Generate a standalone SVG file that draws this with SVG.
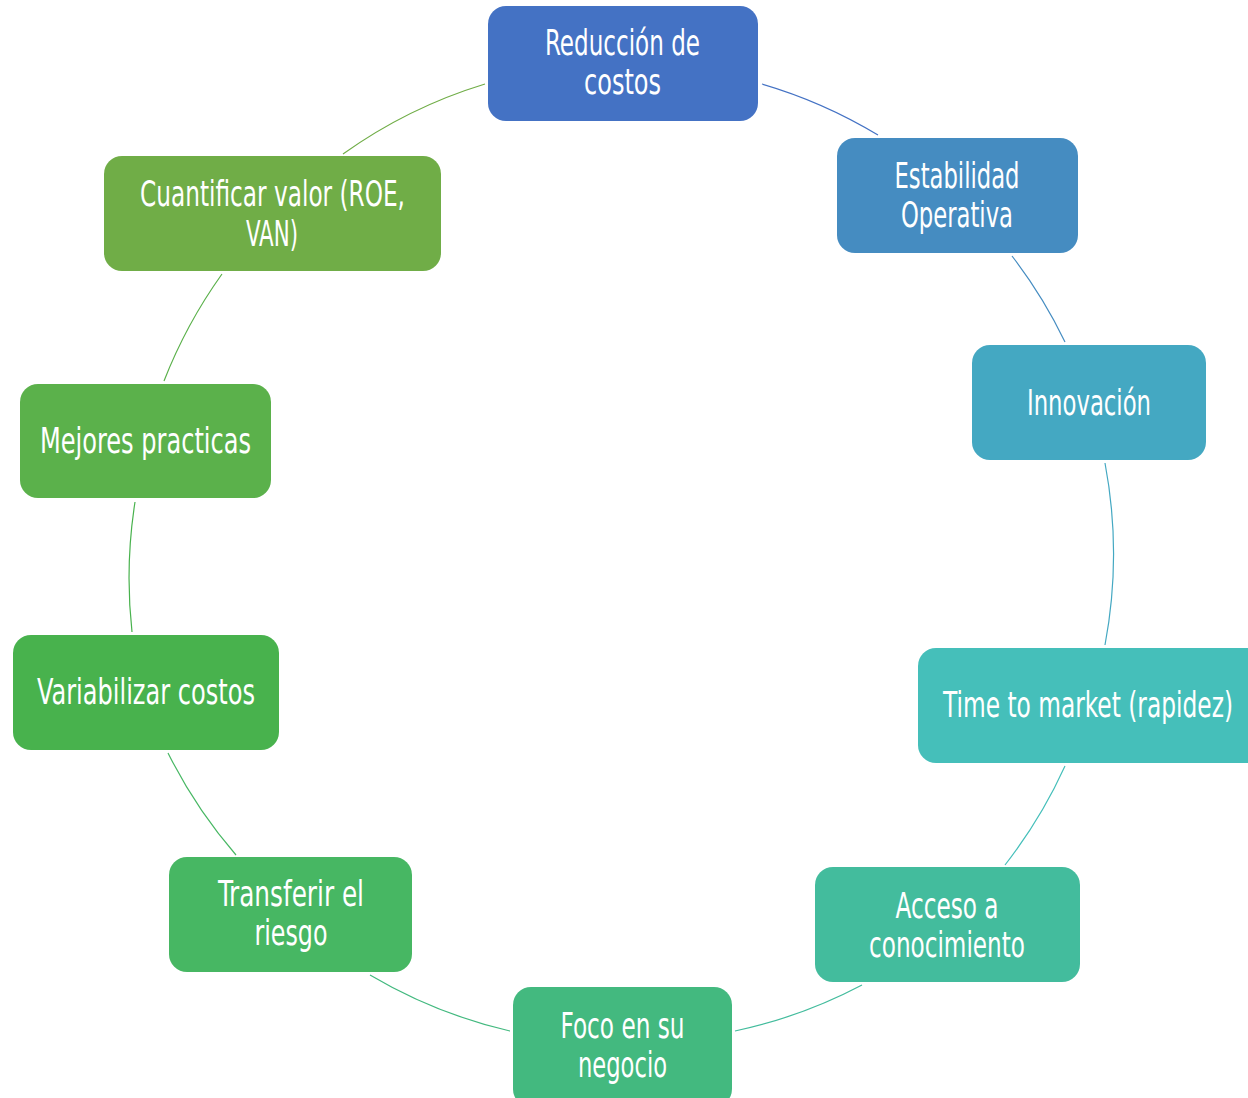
<svg xmlns="http://www.w3.org/2000/svg" width="1248" height="1098" viewBox="0 0 1248 1098">
<style>
.box{stroke:none}
.lbl{font-family:"Liberation Sans Narrow","DejaVu Sans Condensed","Roboto Condensed","Liberation Sans",sans-serif;font-size:36px;fill:#ffffff;text-anchor:middle}
.c{fill:none;stroke-width:1.2}
</style>
<rect width="1248" height="1098" fill="#ffffff"/>
<g id="connectors">
<path class="c" stroke="#4472C4" d="M762,84 A491,491 0 0,1 878,135"/>
<path class="c" stroke="#458CC1" d="M1012,256 A491,491 0 0,1 1065,342"/>
<path class="c" stroke="#44A8C2" d="M1105,463 A491,491 0 0,1 1105,645"/>
<path class="c" stroke="#45BFBA" d="M1065,766 A491,491 0 0,1 1005,865"/>
<path class="c" stroke="#43BC9D" d="M862,985 A491,491 0 0,1 735,1031"/>
<path class="c" stroke="#43B97F" d="M510,1031 A491,491 0 0,1 370,975"/>
<path class="c" stroke="#47B763" d="M236,855 A491,491 0 0,1 168,753"/>
<path class="c" stroke="#48B24D" d="M132,632 A491,491 0 0,1 135,502"/>
<path class="c" stroke="#5BB14B" d="M164,381 A491,491 0 0,1 222,274"/>
<path class="c" stroke="#70AD47" d="M343,154 A491,491 0 0,1 485,84"/>
</g>
<g id="n1">
<rect class="box" x="488" y="6" width="270" height="115" rx="18" fill="#4472C4"/>
<text class="lbl" x="622.5" y="55" textLength="155" lengthAdjust="spacingAndGlyphs">Reducción de</text>
<text class="lbl" x="622.5" y="94" textLength="77" lengthAdjust="spacingAndGlyphs">costos</text>
</g>
<g id="n2">
<rect class="box" x="837" y="138" width="241" height="115" rx="18" fill="#458CC1"/>
<text class="lbl" x="957" y="188" textLength="125" lengthAdjust="spacingAndGlyphs">Estabilidad</text>
<text class="lbl" x="957" y="227" textLength="112" lengthAdjust="spacingAndGlyphs">Operativa</text>
</g>
<g id="n3">
<rect class="box" x="972" y="345" width="234" height="115" rx="18" fill="#44A8C2"/>
<text class="lbl" x="1089" y="415" textLength="124" lengthAdjust="spacingAndGlyphs">Innovación</text>
</g>
<g id="n4">
<rect class="box" x="918" y="648" width="350" height="115" rx="18" fill="#45BFBA"/>
<text class="lbl" x="1088" y="717" textLength="290" lengthAdjust="spacingAndGlyphs">Time to market (rapidez)</text>
</g>
<g id="n5">
<rect class="box" x="815" y="867" width="265" height="115" rx="18" fill="#43BC9D"/>
<text class="lbl" x="947" y="918" textLength="103" lengthAdjust="spacingAndGlyphs">Acceso a</text>
<text class="lbl" x="947" y="957" textLength="156" lengthAdjust="spacingAndGlyphs">conocimiento</text>
</g>
<g id="n6">
<rect class="box" x="513" y="987" width="219" height="120" rx="18" fill="#43B97F"/>
<text class="lbl" x="622.5" y="1038" textLength="124" lengthAdjust="spacingAndGlyphs">Foco en su</text>
<text class="lbl" x="622.5" y="1077" textLength="89" lengthAdjust="spacingAndGlyphs">negocio</text>
</g>
<g id="n7">
<rect class="box" x="169" y="857" width="243" height="115" rx="18" fill="#47B763"/>
<text class="lbl" x="291" y="906" textLength="146" lengthAdjust="spacingAndGlyphs">Transferir el</text>
<text class="lbl" x="291" y="945" textLength="73" lengthAdjust="spacingAndGlyphs">riesgo</text>
</g>
<g id="n8">
<rect class="box" x="13" y="635" width="266" height="115" rx="18" fill="#48B24D"/>
<text class="lbl" x="146" y="704" textLength="218" lengthAdjust="spacingAndGlyphs">Variabilizar costos</text>
</g>
<g id="n9">
<rect class="box" x="20" y="384" width="251" height="114" rx="18" fill="#5BB14B"/>
<text class="lbl" x="145.5" y="453" textLength="211" lengthAdjust="spacingAndGlyphs">Mejores practicas</text>
</g>
<g id="n10">
<rect class="box" x="104" y="156" width="337" height="115" rx="18" fill="#70AD47"/>
<text class="lbl" x="272.5" y="206" textLength="265" lengthAdjust="spacingAndGlyphs">Cuantificar valor (ROE,</text>
<text class="lbl" x="272" y="246" textLength="52" lengthAdjust="spacingAndGlyphs">VAN)</text>
</g>
</svg>
